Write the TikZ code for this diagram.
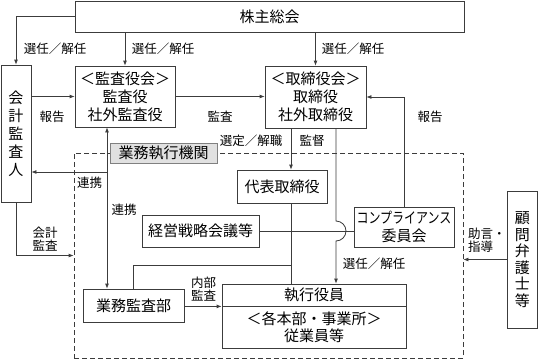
\documentclass[tikz,border=0pt]{standalone}
\usepackage{fontspec}
\usepackage{graphicx}
\setmainfont{Noto Sans CJK JP}
\definecolor{lncol}{RGB}{60,60,60}
\definecolor{kikangray}{RGB}{225,225,225}
\usetikzlibrary{arrows.meta,calc}

\begin{document}
\begin{tikzpicture}[x=1pt, y=-1pt,
  obox/.style={rectangle, draw=lncol, line width=0.8pt, inner sep=0pt,
               font=\fontsize{15}{18}\selectfont, align=center, text=black},
  vbox/.style={obox, minimum width=30pt, minimum height=137pt},
  lbl/.style={font=\fontsize{12.5}{13}\selectfont, align=center, inner sep=0pt},
  farr/.style={-{Latex[length=5pt, width=4pt]}, line width=0.8pt, draw=lncol},
  fline/.style={line width=0.8pt, draw=lncol}
]
\useasboundingbox (0,0) rectangle (538,359);

% Execution area (dashed)
\node[rectangle, draw=lncol, line width=0.8pt, dash pattern=on 5pt off 3pt,
      minimum width=389pt, minimum height=205pt] (area) at (268.5,255.5) {};

% Boxes
\node[obox, minimum width=389pt, minimum height=31pt] (soukai) at (269.5,16.5) {株主総会};
\node[vbox, font=\fontsize{15}{18}\selectfont] (kaikei) at (16,133.5) {会\\計\\監\\査\\人};
\node[obox, minimum width=100pt, minimum height=61pt] (kansa) at (125,96.5) {＜監査役会＞\\監査役\\社外監査役};
\node[obox, minimum width=101pt, minimum height=62pt] (torishimari) at (315.5,97) {＜取締役会＞\\取締役\\社外取締役};
\node[obox, draw=gray, fill=kikangray, minimum width=107pt, minimum height=20pt] (kikan) at (163.5,153) {業務執行機関};
\node[obox, minimum width=90pt,  minimum height=33pt] (daihyo) at (282,186.5) {代表取締役};
\node[obox, minimum width=117pt, minimum height=32pt] (senryaku) at (200.5,231) {経営戦略会議等};
\node[obox, minimum width=100pt, minimum height=40pt] (comp) at (404,227) {\scalebox{0.8}[1]{コンプライアンス}\\委員会};
\node[obox, minimum width=101pt, minimum height=33pt] (bukan) at (133.5,305.5) {業務監査部};
\node[obox, minimum width=184pt, minimum height=22pt] (shikko) at (314,295) {執行役員};
\node[obox, minimum width=184pt, minimum height=42pt, font=\fontsize{15}{17}\selectfont] (jugyo) at (314,327) {＜各本部・事業所＞\\従業員等};
\node[vbox, font=\fontsize{15}{16.5}\selectfont] (komon) at (522.4,259.5) {顧\\問\\弁\\護\\士\\等};

% Helper points
\coordinate (rk) at ($(kansa.south)+(-18,0)$);
\coordinate (dx) at ($(daihyo.south)+(9,0)$);
\coordinate (tx) at ($(torishimari.south)+(20.5,0)$);

% Arrows from the general meeting
\draw[farr] (soukai.west) -| (kaikei.north);
\draw[farr] (soukai.south -| kansa.north) -- (kansa.north);
\draw[farr] (soukai.south -| torishimari.north) -- (torishimari.north);

% Reports and audit
\draw[farr] (kaikei.east |- kansa.west) -- (kansa.west);
\draw[farr] (kansa.east) -- (kansa.east -| torishimari.west);
\draw[farr] (comp.north) |- (torishimari.east);

% Board to executives
\draw[farr] (dx |- torishimari.south) -- (dx |- daihyo.north);
\draw[fline] (dx) -- (dx |- shikko.north);
\draw[fline] (senryaku.east) -- (senryaku.east -| comp.west);
\draw[farr] (tx) -- (tx |- 0,221) arc[start angle=-90, end angle=90, radius=10] -- (tx |- shikko.north);

% Internal audit
\draw[farr, {Latex[length=5pt, width=4pt]}-{Latex[length=5pt, width=4pt]}] (rk) -- (rk |- bukan.north);
\draw[farr] (rk |- 0,172) -- (kaikei.east |- 0,172);
\draw[fline] (bukan.north) |- (dx |- 0,265);
\draw[farr] (bukan.east |- shikko.south) -- (shikko.south west);

% Outside the area
\draw[farr] (kaikei.south) |- (area.west);
\draw[farr] (komon.west) -- (komon.west -| area.east);

% Labels
\node[lbl] (lsel1) at (55,49) {選任／解任};
\node[lbl] (lsel2) at (163,49) {選任／解任};
\node[lbl] (lsel3) at (353,49) {選任／解任};
\node[lbl] (lrep1) at (52,117) {報告};
\node[lbl] (laud) at (220,117) {監査};
\node[lbl] (lrep2) at (430,117) {報告};
\node[lbl] (lsentei) at (251,141) {選定／解職};
\node[lbl] (lkantoku) at (312,141) {監督};
\node[lbl] (lrenkei1) at (89.5,183) {連携};
\node[lbl] (lrenkei2) at (124,210) {連携};
\node[lbl] (lkaikei) at (45,239) {会計\\監査};
\node[lbl] (lnaibu) at (203.5,289) {内部\\監査};
\node[lbl] (lsel4) at (374,264) {選任／解任};
\node[lbl, align=left, anchor=west] (ljogen) at (468,240.5) {助言・\\指導};
\end{tikzpicture}
\end{document}
